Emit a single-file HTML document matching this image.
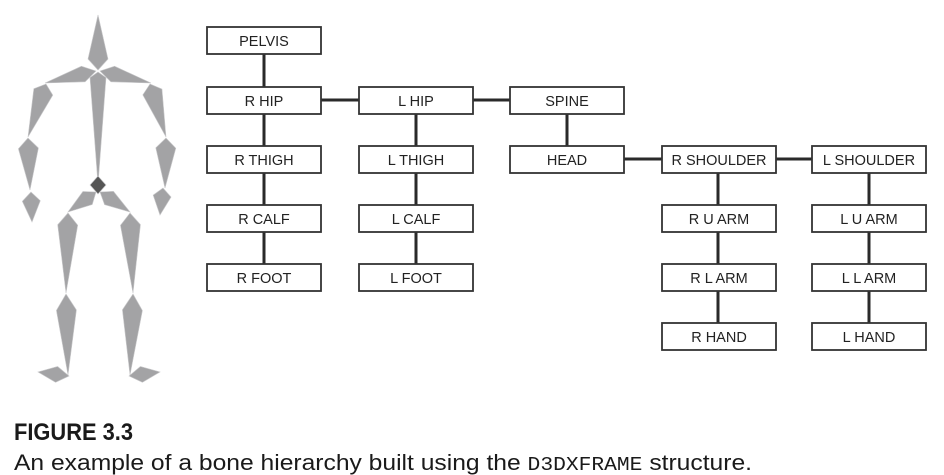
<!DOCTYPE html>
<html><head><meta charset="utf-8"><style>
html,body{margin:0;padding:0;background:#fff;}
svg{display:block;}
</style></head><body>
<svg id="s" width="944" height="475" xmlns="http://www.w3.org/2000/svg" font-family="Liberation Sans, sans-serif">
<g id="fig" fill="#a3a3a5" stroke="#c8c8ca" stroke-width="0.6"></g>
<g stroke="#2a2a2a" stroke-width="3">
<line x1="264" y1="54" x2="264" y2="87"/>
<line x1="264" y1="114" x2="264" y2="264"/>
<line x1="416" y1="114" x2="416" y2="264"/>
<line x1="567" y1="114" x2="567" y2="146"/>
<line x1="718" y1="173" x2="718" y2="323"/>
<line x1="869" y1="173" x2="869" y2="323"/>
<line x1="321" y1="100" x2="359" y2="100"/>
<line x1="473" y1="100" x2="510" y2="100"/>
<line x1="624" y1="159" x2="662" y2="159"/>
<line x1="775" y1="159" x2="812" y2="159"/>
</g>
<g id="boxes" fill="#fff" stroke="#333" stroke-width="1.8" font-size="14.5" text-anchor="middle"></g>
<text x="14" y="440" font-size="24" font-weight="bold" fill="#1a1a1a" textLength="119" lengthAdjust="spacingAndGlyphs">FIGURE 3.3</text>
<text x="14" y="470" font-size="22" fill="#1a1a1a" textLength="738" lengthAdjust="spacingAndGlyphs">An example of a bone hierarchy built using the <tspan font-family="Liberation Mono, monospace" font-size="19">D3DXFRAME</tspan> structure.</text>
</svg>
<script>
var ns="http://www.w3.org/2000/svg";
var cols=[207,359,510,662,812],rows=[27,87,146,205,264,323];
var B=[[0,0,"PELVIS"],[0,1,"R HIP"],[1,1,"L HIP"],[2,1,"SPINE"],[0,2,"R THIGH"],[1,2,"L THIGH"],[2,2,"HEAD"],[3,2,"R SHOULDER"],[4,2,"L SHOULDER"],[0,3,"R CALF"],[1,3,"L CALF"],[3,3,"R U ARM"],[4,3,"L U ARM"],[0,4,"R FOOT"],[1,4,"L FOOT"],[3,4,"R L ARM"],[4,4,"L L ARM"],[3,5,"R HAND"],[4,5,"L HAND"]];
var g=document.getElementById("boxes");
B.forEach(function(b){var x=cols[b[0]],y=rows[b[1]];
var r=document.createElementNS(ns,"rect");r.setAttribute("x",x);r.setAttribute("y",y);r.setAttribute("width",114);r.setAttribute("height",27);g.appendChild(r);
var t=document.createElementNS(ns,"text");t.setAttribute("x",x+57);t.setAttribute("y",y+19);t.setAttribute("fill","#222");t.setAttribute("stroke","none");t.textContent=b[2];g.appendChild(t);});
var f=document.getElementById("fig");
function bone(ax,ay,bx,by,w,t,c){var dx=bx-ax,dy=by-ay,L=Math.hypot(dx,dy),px=-dy/L,py=dx/L,mx=ax+dx*t,my=ay+dy*t;
var p=document.createElementNS(ns,"polygon");p.setAttribute("points",[ax,ay,mx+px*w,my+py*w,bx,by,mx-px*w,my-py*w].join(","));if(c)p.setAttribute("fill",c);f.appendChild(p);}
bone(98,15,98,70,10,0.8);
bone(96,71,45,83,8,0.25);bone(100,71,151,83,8,0.25);
bone(98,72,98,185,8,0.05);
bone(46,84,28,137,10,0.15);bone(150,84,166,137,10,0.15);
bone(28,138,30,190,10,0.2);bone(166,138,165,188,10,0.2);
bone(31,192,32,222,9,0.3);bone(163,188,160,215,9,0.3);
bone(96,192,68,212,8,0.3);bone(100,192,130,212,8,0.3);
bone(68,213,66,293,10,0.15);bone(130,213,133,293,10,0.15);
bone(66,294,68,375,10,0.2);bone(133,294,130,375,10,0.2);
bone(69,376,38,372,8,0.4);bone(129,376,160,372,8,0.4);
bone(98,176,98,194,8,0.5,"#555");
</script>
</body></html>
